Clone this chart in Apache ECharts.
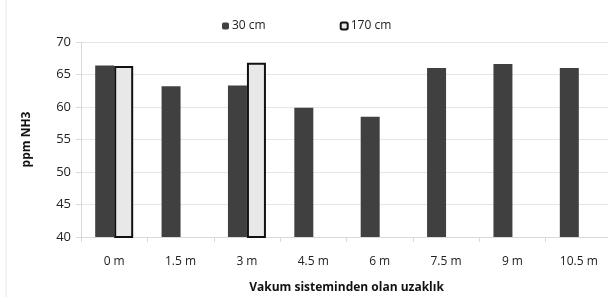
<!DOCTYPE html>
<html>
<head>
<meta charset="utf-8">
<script src="https://cdn.jsdelivr.net/npm/echarts@6/dist/echarts.min.js"></script>
<style>
  html, body { margin: 0; padding: 0; background: #fff; }
  #chart { width: 608px; height: 297px; }
</style>
</head>
<body>
<div id="chart"></div>
<script>
const categories = ['0 m', '1.5 m', '3 m', '4.5 m', '6 m', '7.5 m', '9 m', '10.5 m']
const seriesNames = ['30 cm', '170 cm']
const values30 = [66.4, 63.2, 63.3, 59.9, 58.5, 66.0, 66.6, 66.0]
const values170 = [66.3, null, 66.8, null, null, null, null, null]
const yTicks = [40, 45, 50, 55, 60, 65, 70]

const font = 'Open Sans'
const myChart = echarts.init(document.getElementById('chart'))

myChart.setOption({
  animation: false,
  textStyle: { fontFamily: font },
  legend: {
    top: 15,
    left: 217,
    itemWidth: 7,
    itemHeight: 7,
    itemGap: 74,
    textStyle: { fontFamily: font, fontSize: 12, color: '#222', padding: [0, 0, 0, -2] },
    data: seriesNames
  },
  grid: { left: 81, right: -4, top: 42, bottom: 60, outerBoundsMode: 'none', containLabel: false },
  graphic: [{
    type: 'line',
    shape: { x1: 6, y1: 0, x2: 6, y2: 297 },
    style: { stroke: '#e4e4e4', lineWidth: 1 }
  }],
  xAxis: {
    type: 'category',
    data: categories,
    name: 'Vakum sisteminden olan uzaklık',
    nameLocation: 'middle',
    nameGap: 45,
    nameTextStyle: { fontFamily: font, fontSize: 12, fontWeight: 'bold', color: '#111' },
    axisLine: { lineStyle: { color: '#d9d9d9' } },
    axisTick: { show: true, alignWithLabel: false, length: 5, lineStyle: { color: '#d9d9d9' } },
    axisLabel: { fontFamily: font, fontSize: 12, color: '#222', margin: 19 }
  },
  yAxis: {
    type: 'value',
    min: yTicks[0],
    max: yTicks[yTicks.length - 1],
    interval: 5,
    name: 'ppm NH3',
    nameLocation: 'middle',
    nameRotate: 90,
    nameGap: 48,
    nameTextStyle: { fontFamily: font, fontSize: 12, fontWeight: 'bold', color: '#111' },
    axisLine: { show: true, lineStyle: { color: '#d9d9d9' } },
    axisTick: { show: true, length: 5, lineStyle: { color: '#d9d9d9' } },
    axisLabel: { fontFamily: font, fontSize: 13, color: '#222', margin: 10 },
    splitLine: { lineStyle: { color: '#e6e6e6' } }
  },
  series: [
    {
      name: seriesNames[0],
      type: 'bar',
      data: values30,
      barWidth: 19,
      barGap: '0%',
      itemStyle: { color: '#404040', borderColor: '#404040', borderWidth: 0 }
    },
    {
      name: seriesNames[1],
      type: 'bar',
      data: values170,
      barWidth: 19,
      itemStyle: { color: '#e8e8e8', borderColor: '#111', borderWidth: 2 }
    }
  ]
})
</script>
</body>
</html>
